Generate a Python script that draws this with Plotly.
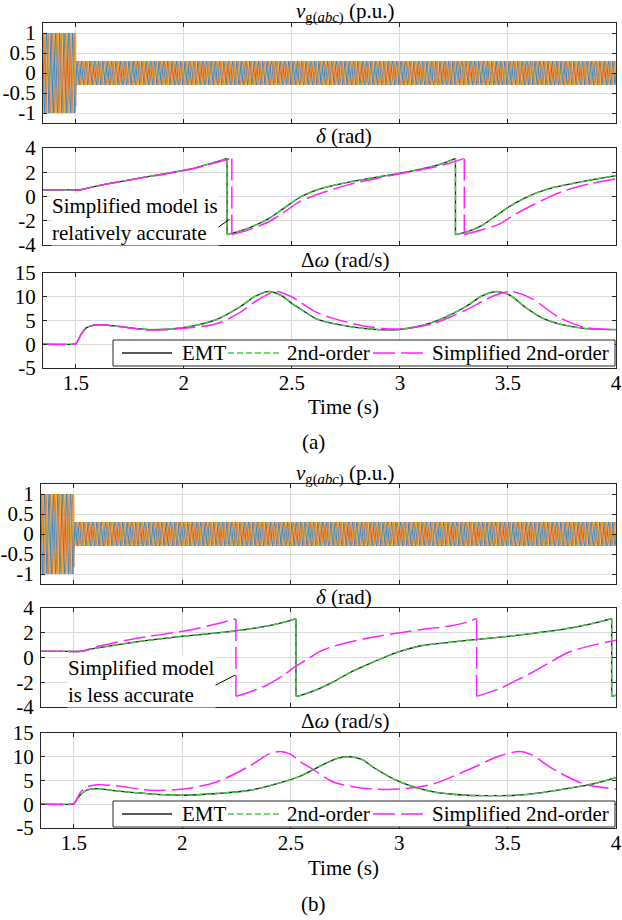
import numpy as np
import plotly.graph_objects as go

FONT = "Liberation Serif"
FS = 21
W, H = 622, 920

# ---------------- data ----------------
t_range = [1.348, 4.0]
x_tick_vals = [1.5, 2, 2.5, 3, 3.5, 4]
x_tick_text = ["1.5", "2", "2.5", "3", "3.5", "4"]

vg_tick_vals = [-1, -0.5, 0, 0.5, 1]
vg_tick_text = ["-1", "-0.5", "0", "0.5", "1"]
delta_tick_vals = [-4, -2, 0, 2, 4]
delta_tick_text = ["-4", "-2", "0", "2", "4"]
dw_tick_vals = [-5, 0, 5, 10, 15]
dw_tick_text = ["-5", "0", "5", "10", "15"]

# grid voltage (three-phase sinusoid read as amplitude / frequency / fault instant)
vg_fault_time = 1.5
vg_amp_pre = 1.0
vg_amp_post = 0.3
vg_freq = 50.0
vg_phase_shift_deg = [0, -120, 120]

# ---- case (a) ----
delta_a_emt_t = [1.348, 1.45, 1.52, 1.58, 1.67, 1.76, 1.84, 1.92, 1.99, 2.05, 2.10, 2.15, 2.20,
                 2.20, 2.30, 2.39, 2.46, 2.534, 2.626, 2.70, 2.76, 2.88, 2.995, 3.08, 3.15, 3.21, 3.257,
                 3.257, 3.32, 3.38, 3.44, 3.503, 3.57, 3.64, 3.70, 3.766, 3.88, 4.0]
delta_a_emt_v = [0.55, 0.55, 0.55, 0.8, 1.12, 1.4, 1.66, 1.9, 2.13, 2.35, 2.6, 2.85, 3.14,
                 -3.14, -2.6, -1.85, -1.0, -0.1, 0.6, 0.95, 1.17, 1.55, 1.91, 2.2, 2.48, 2.8, 3.14,
                 -3.14, -2.85, -2.38, -1.65, -0.87, -0.2, 0.35, 0.7, 0.96, 1.35, 1.72]
delta_a_2nd_t = list(delta_a_emt_t)
delta_a_2nd_v = list(delta_a_emt_v)
delta_a_sim_t = [1.348, 1.45, 1.52, 1.58, 1.67, 1.76, 1.84, 1.92, 1.99, 2.10, 2.16, 2.222,
                 2.222, 2.30, 2.39, 2.455, 2.534, 2.626, 2.76, 2.88, 2.995, 3.15, 3.23, 3.298,
                 3.298, 3.38, 3.457, 3.53, 3.61, 3.69, 3.766, 3.88, 4.0]
delta_a_sim_v = [0.55, 0.55, 0.55, 0.8, 1.12, 1.4, 1.64, 1.88, 2.1, 2.55, 2.85, 3.14,
                 -3.14, -2.75, -2.1, -1.4, -0.45, 0.22, 0.96, 1.45, 1.86, 2.4, 2.75, 3.14,
                 -3.14, -2.75, -2.3, -1.5, -0.74, -0.05, 0.5, 1.05, 1.45]

dw_a_emt_t = [1.348, 1.49, 1.5, 1.526, 1.55, 1.595, 1.687, 1.84, 1.995, 2.15, 2.257, 2.33, 2.39,
              2.45, 2.503, 2.534, 2.61, 2.688, 2.84, 2.995, 3.15, 3.30, 3.38, 3.447, 3.51, 3.58,
              3.66, 3.735, 3.86, 4.0]
dw_a_emt_v = [0, 0, 0.1, 2.2, 3.5, 4.1, 3.8, 3.1, 3.5, 5.2, 7.8, 10.1, 11.1,
              10.3, 8.5, 7.6, 5.4, 4.4, 3.3, 3.1, 4.6, 7.8, 10.2, 11.1, 10.3, 7.8,
              5.5, 4.3, 3.3, 3.1]
dw_a_2nd_t = list(dw_a_emt_t)
dw_a_2nd_v = list(dw_a_emt_v)
dw_a_sim_t = [1.348, 1.49, 1.5, 1.526, 1.55, 1.595, 1.687, 1.84, 1.995, 2.15, 2.257, 2.33, 2.38,
              2.43, 2.503, 2.534, 2.61, 2.688, 2.84, 2.995, 3.15, 3.30, 3.44, 3.517, 3.61, 3.735,
              3.86, 4.0]
dw_a_sim_v = [0, 0, 0.1, 2.2, 3.5, 4.1, 3.8, 3.0, 3.3, 4.3, 6.6, 9.0, 10.3,
              11.1, 9.9, 9.0, 6.8, 5.5, 3.8, 3.2, 4.3, 7.1, 10.3, 11.1, 9.6, 5.7,
              3.5, 3.1]

# ---- case (b) ----
delta_b_emt_t = [1.348, 1.45, 1.53, 1.60, 1.774, 2.004, 2.235, 2.389, 2.47, 2.524,
                 2.524, 2.542, 2.62, 2.696, 2.77, 2.85, 2.93, 3.004, 3.10, 3.234, 3.35, 3.465,
                 3.58, 3.696, 3.80, 3.895, 3.98,
                 3.98, 4.0]
delta_b_emt_v = [0.5, 0.5, 0.5, 0.75, 1.23, 1.72, 2.13, 2.54, 2.85, 3.14,
                 -3.14, -3.08, -2.6, -1.97, -1.25, -0.6, 0.0, 0.49, 0.95, 1.23, 1.45, 1.64,
                 1.87, 2.13, 2.42, 2.76, 3.14,
                 -3.14, -3.05]
delta_b_2nd_t = list(delta_b_emt_t)
delta_b_2nd_v = list(delta_b_emt_v)
delta_b_sim_t = [1.348, 1.45, 1.53, 1.60, 1.774, 2.004, 2.12, 2.247,
                 2.247, 2.30, 2.389, 2.46, 2.524, 2.58, 2.635, 2.696, 2.85, 3.004, 3.12, 3.234,
                 3.30, 3.357,
                 3.357, 3.465, 3.54, 3.619, 3.70, 3.773, 3.85, 3.92, 4.0]
delta_b_sim_v = [0.5, 0.5, 0.5, 0.85, 1.5, 2.13, 2.55, 3.12,
                 -3.14, -2.85, -2.24, -1.5, -0.7, -0.1, 0.5, 0.9, 1.55, 2.0, 2.3, 2.54,
                 2.8, 3.14,
                 -3.14, -2.5, -1.85, -1.15, -0.35, 0.36, 0.8, 1.1, 1.39]

dw_b_emt_t = [1.348, 1.49, 1.5, 1.528, 1.558, 1.605, 1.697, 1.85, 2.004, 2.158, 2.312, 2.465,
              2.542, 2.60, 2.665, 2.72, 2.773, 2.83, 2.88, 3.004, 3.158, 3.31, 3.45, 3.542,
              3.65, 3.773, 3.895, 4.0]
dw_b_emt_v = [0, 0, 0.1, 1.9, 2.95, 3.3, 2.8, 2.2, 1.9, 2.26, 2.95, 4.7,
              5.9, 7.2, 8.7, 9.7, 10.0, 9.4, 7.8, 4.7, 2.6, 1.9, 1.8, 1.9,
              2.4, 3.3, 4.3, 5.6]
dw_b_2nd_t = list(dw_b_emt_t)
dw_b_2nd_v = list(dw_b_emt_v)
dw_b_sim_t = [1.348, 1.49, 1.5, 1.528, 1.558, 1.605, 1.697, 1.85, 2.004, 2.158, 2.312, 2.40,
              2.45, 2.50, 2.542, 2.60, 2.696, 2.85, 3.004, 3.158, 3.31, 3.465, 3.557, 3.62,
              3.696, 3.85, 4.0]
dw_b_sim_v = [0, 0, 0.1, 2.4, 3.6, 4.1, 3.9, 2.95, 3.2, 4.7, 8.1, 10.6,
              11.1, 10.5, 9.0, 7.4, 4.7, 3.3, 3.2, 4.3, 7.1, 10.2, 11.1, 10.2,
              7.8, 4.3, 3.2]

series_names = ["EMT", "2nd-order", "Simplified 2nd-order"]

# ---------------- styles ----------------
AXIS = "#262626"
GRID = "#dcdcdc"
PHASE_COLORS = ["#2a86d4", "#e47a2c", "#edb120"]
STYLES = [
    dict(color="#222222", width=1.3, dash="solid"),
    dict(color="#3fd03f", width=1.5, dash="6px,3px"),
    dict(color="#ff22ff", width=1.5, dash="22px,6px"),
]


def px_dom_x(left, right):
    return [left / W, right / W]


def px_dom_y(top, bottom):
    return [1 - bottom / H, 1 - top / H]


def split_wraps(t, v):
    ot, ov = [], []
    for i in range(len(t)):
        if i > 0 and abs(v[i] - v[i - 1]) > 5:
            ot += [None, t[i - 1], t[i], None]
            ov += [None, v[i - 1], v[i], None]
        ot.append(t[i])
        ov.append(v[i])
    return ot, ov


fig = go.Figure()

# voltage waveform
tt = np.linspace(t_range[0], t_range[1], 9000)
amp = np.where(tt < vg_fault_time, vg_amp_pre, vg_amp_post)
for panel, (xa, ya) in enumerate([("x", "y"), ("x4", "y4")]):
    for k in [2, 0, 1]:
        vv = amp * np.sin(2 * np.pi * vg_freq * tt + np.deg2rad(vg_phase_shift_deg[k]))
        fig.add_trace(go.Scatter(x=tt, y=vv, mode="lines", xaxis=xa, yaxis=ya,
                                 line=dict(color=PHASE_COLORS[k], width=1),
                                 showlegend=False, hoverinfo="skip"))

delta_sets = [
    ("x2", "y2", [(delta_a_emt_t, delta_a_emt_v), (delta_a_2nd_t, delta_a_2nd_v), (delta_a_sim_t, delta_a_sim_v)]),
    ("x5", "y5", [(delta_b_emt_t, delta_b_emt_v), (delta_b_2nd_t, delta_b_2nd_v), (delta_b_sim_t, delta_b_sim_v)]),
]
for xa, ya, sets in delta_sets:
    for i, (t, v) in enumerate(sets):
        st, sv = split_wraps(t, v)
        fig.add_trace(go.Scatter(x=st, y=sv, mode="lines", xaxis=xa, yaxis=ya,
                                 name=series_names[i],
                                 line=dict(shape="spline", smoothing=0.8, **STYLES[i]),
                                 showlegend=False, hoverinfo="skip"))

dw_sets = [
    ("x3", "y3", [(dw_a_emt_t, dw_a_emt_v), (dw_a_2nd_t, dw_a_2nd_v), (dw_a_sim_t, dw_a_sim_v)]),
    ("x6", "y6", [(dw_b_emt_t, dw_b_emt_v), (dw_b_2nd_t, dw_b_2nd_v), (dw_b_sim_t, dw_b_sim_v)]),
]
for xa, ya, sets in dw_sets:
    for i, (t, v) in enumerate(sets):
        fig.add_trace(go.Scatter(x=t, y=v, mode="lines", xaxis=xa, yaxis=ya, name=series_names[i],
                                 line=dict(shape="spline", smoothing=0.8, **STYLES[i]),
                                 showlegend=False, hoverinfo="skip"))

tickfont = dict(family=FONT, size=FS, color="black")


def xcfg(dom, anchor, labels):
    return dict(domain=dom, anchor=anchor, range=t_range, tickmode="array",
                tickvals=x_tick_vals, ticktext=x_tick_text, showticklabels=labels,
                showgrid=True, gridcolor=GRID, gridwidth=1, zeroline=False,
                showline=True, linecolor=AXIS, linewidth=1, mirror="ticks",
                ticks="inside", ticklen=4, tickcolor=AXIS, tickfont=tickfont,
                ticklabeloverflow="allow")


def ycfg(dom, anchor, rng, vals, text):
    return dict(domain=dom, anchor=anchor, range=rng, tickmode="array",
                tickvals=vals, ticktext=text, showgrid=True, gridcolor=GRID,
                gridwidth=1, zeroline=False, showline=True, linecolor=AXIS,
                linewidth=1, mirror="ticks", ticks="inside", ticklen=4,
                tickcolor=AXIS, tickfont=tickfont, ticklabelstandoff=2,
                ticklabeloverflow="allow")


xa_dom = px_dom_x(43, 616)
xb_dom = px_dom_x(41, 616)

layout_axes = dict(
    xaxis=xcfg(xa_dom, "y", False),
    xaxis2=xcfg(xa_dom, "y2", False),
    xaxis3=xcfg(xa_dom, "y3", True),
    xaxis4=xcfg(xb_dom, "y4", False),
    xaxis5=xcfg(xb_dom, "y5", False),
    xaxis6=xcfg(xb_dom, "y6", True),
    yaxis=ycfg(px_dom_y(23, 123), "x", [-1.25, 1.25], vg_tick_vals, vg_tick_text),
    yaxis2=ycfg(px_dom_y(148, 245), "x2", [-4, 4], delta_tick_vals, delta_tick_text),
    yaxis3=ycfg(px_dom_y(273, 368), "x3", [-5, 15], dw_tick_vals, dw_tick_text),
    yaxis4=ycfg(px_dom_y(484, 584), "x4", [-1.25, 1.25], vg_tick_vals, vg_tick_text),
    yaxis5=ycfg(px_dom_y(608, 707), "x5", [-4, 4], delta_tick_vals, delta_tick_text),
    yaxis6=ycfg(px_dom_y(733, 828), "x6", [-5, 15], dw_tick_vals, dw_tick_text),
)

txt = dict(family=FONT, size=FS, color="black")


def pann(text, px, py, **kw):
    d = dict(text=text, x=px / W, y=1 - py / H, xref="paper", yref="paper",
             showarrow=False, font=txt, xanchor="center", yanchor="middle")
    d.update(kw)
    return d


def pline(x0, y0, x1, y1, line):
    return dict(type="line", xref="paper", yref="paper", x0=x0 / W, x1=x1 / W,
                y0=1 - y0 / H, y1=1 - y1 / H, line=line, layer="above")


annotations = []
shapes = []
for off in [0, 461]:
    annotations += [
        pann("<i>v</i><sub>g(<i>abc</i>)</sub> (p.u.)", 345, 13 + off),
        pann("<i>δ</i> (rad)", 344, 136 + off),
        pann("Δ<i>ω</i> (rad/s)", 345, 260 + off),
        pann("Time (s)", 343, 407 + off),
    ]
    # legend box (drawn over the curves like the original)
    shapes.append(dict(type="rect", xref="paper", yref="paper",
                       x0=113 / W, x1=615 / W, y0=1 - (366 + off) / H, y1=1 - (340 + off) / H,
                       fillcolor="white", line=dict(color=AXIS, width=1), layer="above"))
    samples = [(122, 172, 180), (228, 280, 285), (373, 425, 430)]
    for i, (sx0, sx1, tx) in enumerate(samples):
        shapes.append(pline(sx0, 353 + off, sx1, 353 + off,
                            dict(color=STYLES[i]["color"], width=STYLES[i]["width"],
                                 dash=STYLES[i]["dash"])))
        annotations.append(pann(series_names[i], tx, 353 + off, xanchor="left"))

annotations += [pann("(a)", 314, 442), pann("(b)", 314, 904)]
annotations += [
    dict(text="Simplified model is<br>relatively accurate", x=1.385, y=-1.93,
         xref="x2", yref="y2", xanchor="left", yanchor="middle", align="left",
         showarrow=False, font=txt, bgcolor="white", borderpad=0),
    dict(text="Simplified model<br>is less accurate", x=1.468, y=-1.91,
         xref="x5", yref="y5", xanchor="left", yanchor="middle", align="left",
         showarrow=False, font=txt, bgcolor="white", borderpad=0),
]

shapes += [
    dict(type="line", xref="x2", yref="y2", x0=2.105, y0=-3.2, x1=2.211, y1=-1.89,
         line=dict(color="black", width=1)),
    dict(type="line", xref="x5", yref="y5", x0=2.081, y0=-2.89, x1=2.243, y1=-1.42,
         line=dict(color="black", width=1)),
]

fig.update_layout(
    width=W, height=H, margin=dict(l=0, r=0, t=0, b=0, pad=0, autoexpand=False),
    paper_bgcolor="white", plot_bgcolor="white", showlegend=False,
    font=dict(family=FONT, size=FS, color="black"),
    annotations=annotations, shapes=shapes,
    **layout_axes,
)

for ax in ["xaxis3", "xaxis6"]:
    try:
        fig.layout[ax].ticklabelstandoff = -4
    except Exception:
        fig.layout[ax].ticklabelstandoff = 0

fig.write_html("out.html", config={"displayModeBar": False},
               post_script="document.body.style.margin='0px';document.body.style.overflow='hidden';")
